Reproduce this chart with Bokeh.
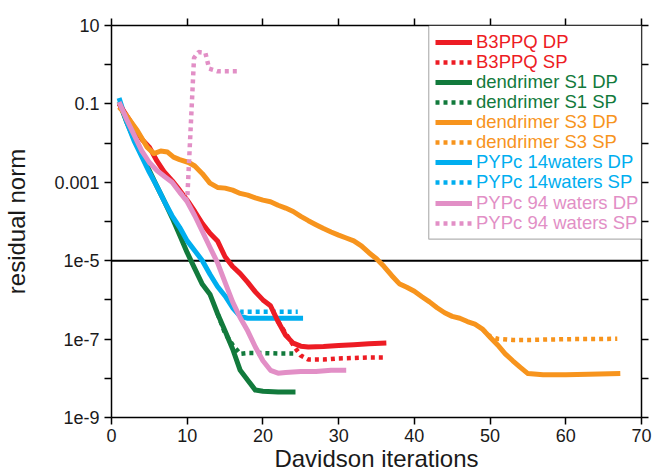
from bokeh.plotting import figure
from bokeh.models import (Range1d, FixedTicker, LinearAxis, LogAxis, Span,
                          Legend, LegendItem, BoxAnnotation)
from bokeh.embed import file_html
from bokeh.resources import INLINE

FONT = "Liberation Sans"

# ---------------- data ----------------
x_ticks = [0, 10, 20, 30, 40, 50, 60, 70]
y_ticks = [1e-9, 1e-7, 1e-5, 1e-3, 1e-1, 10]
y_tick_labels = ["1e-9", "1e-7", "1e-5", "0.001", "0.1", "10"]
y_minor_ticks = [1e-8, 1e-6, 1e-4, 1e-2, 1]
threshold = 1e-5

b3ppq_dp_x = [1, 2, 3, 4, 5, 6, 7, 8, 9, 10, 11, 12, 13, 14, 15, 16, 17, 18, 19, 20,
              21, 22, 23, 24, 25, 26, 28, 30, 32, 34, 36.3]
b3ppq_dp_y = [1.0e-1, 5.0e-2, 2.5e-2, 1.26e-2, 7.9e-3, 3.5e-3, 1.8e-3, 1.1e-3, 6.3e-4,
              3.5e-4, 1.8e-4, 8.9e-5, 5.0e-5, 3.2e-5, 1.26e-5, 7.1e-6, 4.7e-6, 2.8e-6,
              1.6e-6, 1.0e-6, 7.1e-7, 2.8e-7, 1.26e-7, 7.9e-8, 6.6e-8, 6.3e-8, 6.5e-8,
              6.9e-8, 7.2e-8, 7.6e-8, 7.9e-8]
b3ppq_sp_x = [22, 23, 24, 25, 26, 28, 30, 32, 34, 36.3]
b3ppq_sp_y = [2.8e-7, 1.4e-7, 7.1e-8, 3.8e-8, 3.0e-8, 3.0e-8, 3.2e-8, 3.3e-8, 3.4e-8, 3.4e-8]

s1_dp_x = [1, 2, 3, 4, 5, 6, 7, 8, 9, 10, 11, 12, 13, 14, 15, 16, 17, 18, 19, 20, 22, 24.3]
s1_dp_y = [1.12e-1, 3.5e-2, 1.26e-2, 5.0e-3, 2.0e-3, 7.9e-4, 3.2e-4, 1.26e-4, 4.5e-5,
           1.6e-5, 6.3e-6, 2.5e-6, 1.4e-6, 4.5e-7, 1.6e-7, 5.6e-8, 1.6e-8, 8.9e-9,
           5.0e-9, 4.7e-9, 4.5e-9, 4.5e-9]
s1_sp_x = [14, 15, 16, 17, 18, 20, 22, 24]
s1_sp_y = [4.5e-7, 1.4e-7, 7.1e-8, 4.2e-8, 4.4e-8, 4.4e-8, 4.3e-8, 4.3e-8]

s3_dp_x = [1, 2, 3.4, 4.7, 5.6, 6.5, 7.4, 8.2, 9, 10.2, 11, 12, 13, 14, 15, 16, 17, 18,
           19, 20, 21, 22, 23, 24, 25, 26, 27, 28, 29, 30, 31, 32, 33, 34, 35, 36, 37, 38,
           39, 40, 41, 42, 43, 44, 45, 46, 47, 48, 49, 50, 51, 52, 53, 54, 55, 57, 60, 63,
           67.2]
s3_dp_y = [8.3e-2, 5.0e-2, 2.1e-2, 7.9e-3, 5.4e-3, 6.3e-3, 5.9e-3, 4.4e-3, 3.8e-3, 3.2e-3,
           2.6e-3, 1.66e-3, 9.5e-4, 7.4e-4, 7.1e-4, 6.3e-4, 5.2e-4, 4.7e-4, 4.0e-4, 3.5e-4,
           3.2e-4, 2.6e-4, 2.2e-4, 1.8e-4, 1.35e-4, 1.05e-4, 8.3e-5, 6.6e-5, 5.4e-5, 4.5e-5,
           3.8e-5, 3.2e-5, 2.4e-5, 1.6e-5, 1.12e-5, 7.1e-6, 4.2e-6, 2.6e-6, 2.1e-6, 1.66e-6,
           1.2e-6, 8.9e-7, 6.3e-7, 4.7e-7, 3.8e-7, 3.4e-7, 2.8e-7, 2.4e-7, 1.8e-7, 1.12e-7,
           7.1e-8, 4.2e-8, 2.8e-8, 1.9e-8, 1.32e-8, 1.23e-8, 1.23e-8, 1.26e-8, 1.32e-8]
s3_sp_x = [49, 50, 51, 53, 55, 58, 61, 64, 66.8]
s3_sp_y = [1.8e-7, 1.17e-7, 1.02e-7, 9.5e-8, 9.5e-8, 9.8e-8, 1.0e-7, 1.0e-7, 1.02e-7]

pyp14_dp_x = [1, 2, 3, 4, 5, 6, 7, 8, 9, 10, 11, 12, 13, 14, 15, 16, 17, 18, 20, 22, 25.3]
pyp14_dp_y = [1.41e-1, 3.5e-2, 1.12e-2, 4.5e-3, 1.8e-3, 7.9e-4, 3.2e-4, 1.4e-4, 7.1e-5,
              3.2e-5, 1.8e-5, 1.0e-5, 4.5e-6, 2.2e-6, 1.26e-6, 6.3e-7, 3.8e-7, 3.4e-7,
              3.4e-7, 3.4e-7, 3.4e-7]
pyp14_sp_x = [16, 17, 18, 20, 22, 24.6]
pyp14_sp_y = [6.3e-7, 5.0e-7, 5.0e-7, 5.0e-7, 5.0e-7, 5.0e-7]

pyp94_dp_x = [1, 2, 3, 4, 5, 6, 7, 8, 9, 10, 11, 12, 13, 14, 15, 16, 17, 18, 19, 20,
              21, 22, 23, 25, 27, 29, 31]
pyp94_dp_y = [1.12e-1, 4.0e-2, 1.6e-2, 6.3e-3, 3.2e-3, 2.0e-3, 1.4e-3, 1.0e-3, 5.6e-4,
              3.2e-4, 1.4e-4, 5.6e-5, 2.2e-5, 8.9e-6, 2.8e-6, 8.9e-7, 3.5e-7, 1.6e-7,
              6.3e-8, 2.8e-8, 1.6e-8, 1.35e-8, 1.4e-8, 1.5e-8, 1.5e-8, 1.6e-8, 1.6e-8]
pyp94_sp_x = [9, 10, 10.9, 11.5, 12.4, 12.9, 14, 16.7]
pyp94_sp_y = [5.6e-4, 3.5e-4, 1.5, 2.1, 2.0, 0.79, 0.68, 0.68]

RED, GREEN, ORANGE, CYAN, PINK = "#ed1c24", "#127a3c", "#f7941d", "#00aeef", "#e28fc6"

# (name, color, dashed, xs, ys) in legend order
series = [
    ("B3PPQ DP", RED, False, b3ppq_dp_x, b3ppq_dp_y),
    ("B3PPQ SP", RED, True, b3ppq_sp_x, b3ppq_sp_y),
    ("dendrimer S1 DP", GREEN, False, s1_dp_x, s1_dp_y),
    ("dendrimer S1 SP", GREEN, True, s1_sp_x, s1_sp_y),
    ("dendrimer S3 DP", ORANGE, False, s3_dp_x, s3_dp_y),
    ("dendrimer S3 SP", ORANGE, True, s3_sp_x, s3_sp_y),
    ("PYPc 14waters DP", CYAN, False, pyp14_dp_x, pyp14_dp_y),
    ("PYPc 14waters SP", CYAN, True, pyp14_sp_x, pyp14_sp_y),
    ("PYPc 94 waters DP", PINK, False, pyp94_dp_x, pyp94_dp_y),
    ("PYPc 94 waters SP", PINK, True, pyp94_sp_x, pyp94_sp_y),
]
draw_order = ["dendrimer S1 DP", "PYPc 14waters DP", "PYPc 14waters SP", "dendrimer S1 SP",
              "B3PPQ DP", "B3PPQ SP", "dendrimer S3 DP", "dendrimer S3 SP",
              "PYPc 94 waters DP", "PYPc 94 waters SP"]

# ---------------- figure ----------------
W, H = 655, 474
LEFT, TOP, RIGHT = 111, 25, 14
FH = 391  # expected frame height (H - TOP - bottom axis extent)
p = figure(width=W, height=H, x_range=Range1d(0, 70),
           y_range=Range1d(1e-9, 10), y_axis_type="log",
           output_backend="svg", toolbar_location=None,
           min_border_left=LEFT, min_border_right=RIGHT, min_border_top=TOP,
           min_border_bottom=40)
p.xgrid.visible = False
p.ygrid.visible = False
p.outline_line_color = None
p.background_fill_color = "white"
p.border_fill_color = "white"


def style_axis(ax, labels=True):
    ax.axis_line_color = "black"
    ax.axis_line_width = 1.5
    ax.major_tick_line_color = "black"
    ax.major_tick_line_width = 1.5
    ax.minor_tick_line_color = "black"
    ax.minor_tick_line_width = 1.5
    ax.major_tick_in = 0
    ax.minor_tick_in = 0
    ax.major_tick_out = 7
    ax.minor_tick_out = 7
    ax.major_label_text_font = FONT
    ax.major_label_text_color = "#1a1a1a"
    ax.axis_label_text_font = FONT
    ax.axis_label_text_font_style = "normal"
    ax.axis_label_text_color = "#1a1a1a"
    if labels:
        ax.major_label_text_font_size = "18px"
        ax.axis_label_text_font_size = "24px"
    else:
        ax.major_label_text_font_size = "0px"
        ax.major_label_standoff = 0
        ax.axis_label = None


xa = p.xaxis[0]
xa.ticker = FixedTicker(ticks=x_ticks, minor_ticks=[])
style_axis(xa)
xa.axis_label = "Davidson iterations"
xa.major_label_standoff = 4
xa.axis_label_standoff = 0

ya = p.yaxis[0]
ya.ticker = FixedTicker(ticks=y_ticks, minor_ticks=y_minor_ticks)
style_axis(ya)
ya.axis_label = "residual norm"
ya.major_label_standoff = 5
ya.axis_label_standoff = 21
ya.major_label_overrides = {v: s for v, s in zip(y_ticks, y_tick_labels)}

top = LinearAxis(ticker=FixedTicker(ticks=x_ticks, minor_ticks=[]))
style_axis(top, labels=False)
top.major_label_overrides = {v: "" for v in x_ticks}
p.add_layout(top, "above")

right = LogAxis(ticker=FixedTicker(ticks=y_ticks, minor_ticks=y_minor_ticks))
style_axis(right, labels=False)
right.major_label_overrides = {v: "" for v in y_ticks}
p.add_layout(right, "right")

p.add_layout(Span(location=threshold, dimension="width", line_color="black",
                  line_width=2, level="underlay"))

renderers = {}
lookup = {s[0]: s for s in series}
for name in draw_order:
    _, color, dashed, xs, ys = lookup[name]
    if dashed:
        r = p.line(xs, ys, line_color=color, line_width=4.5, line_dash="4 4")
    else:
        r = p.line(xs, ys, line_color=color, line_width=5, line_join="round")
    renderers[name] = r

# legend box (top-right corner of the frame)
p.add_layout(BoxAnnotation(left=41.9, right=70, top=10, bottom=3.57e-5,
                           fill_color="white", fill_alpha=1.0,
                           line_color="black", line_width=1.2))

ROW0, ROW_H, ITEM_H = 15.7, 20.1, 22
for i, (name, color, dashed, xs, ys) in enumerate(series):
    leg = Legend(items=[LegendItem(label=name, renderers=[renderers[name]])],
                 location=(324, FH - ROW0 - ROW_H * i - ITEM_H / 2),
                 label_text_color=color, label_text_font=FONT,
                 label_text_font_size="18.5px", glyph_width=37, glyph_height=ITEM_H,
                 label_height=ITEM_H, label_standoff=4, padding=0, margin=0,
                 spacing=0, border_line_alpha=0, background_fill_alpha=0)
    p.add_layout(leg)

open("out.html", "w").write(file_html(p, INLINE))
